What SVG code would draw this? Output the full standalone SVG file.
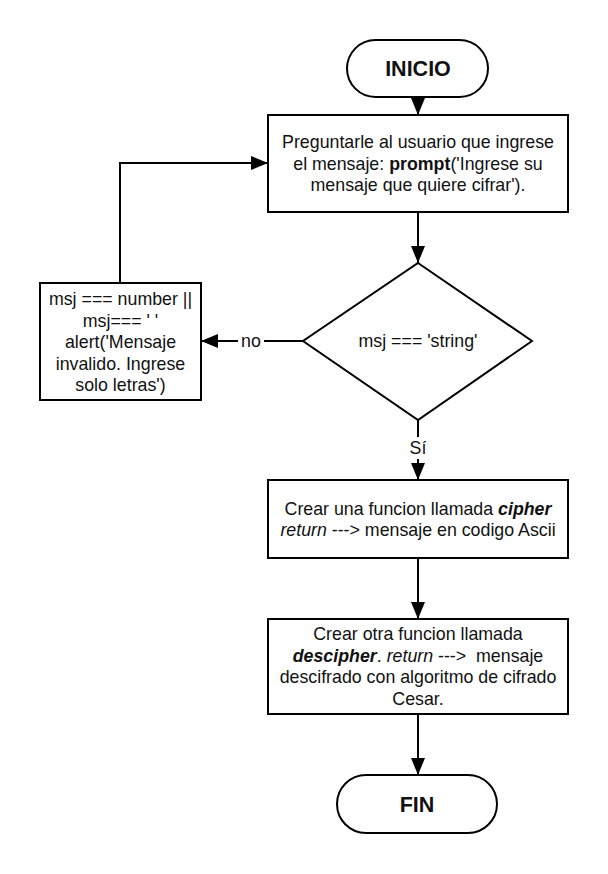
<svg xmlns="http://www.w3.org/2000/svg" width="608" height="874" viewBox="0 0 608 874">
<style>
.shape{fill:#fff;stroke:#000;stroke-width:2}
.t{font-family:"Liberation Sans",Arial,sans-serif;font-size:17.8px;fill:#111;text-anchor:middle}
.title{font-family:"Liberation Sans",Arial,sans-serif;font-size:21.5px;font-weight:bold;fill:#111;text-anchor:middle}
.line{fill:none;stroke:#000;stroke-width:2}
.b{font-weight:bold}
.i{font-style:italic}
.bi{font-weight:bold;font-style:italic}
</style>
<defs>
<marker id="arr" markerUnits="userSpaceOnUse" markerWidth="18" markerHeight="14" refX="17" refY="7" orient="auto">
<path d="M0,0 L17,7 L0,14 Z" fill="#000"/>
</marker>
</defs>
<rect width="608" height="874" fill="#fff"/>
<g id="connectors">
<line class="line" x1="418" y1="97" x2="418" y2="115" marker-end="url(#arr)"/>
<line class="line" x1="418" y1="212" x2="418" y2="263" marker-end="url(#arr)"/>
<line class="line" x1="303" y1="341" x2="201" y2="341" marker-end="url(#arr)"/>
<rect x="238" y="330" width="26" height="22" fill="#fff"/>
<text class="t" x="251" y="347">no</text>
<polyline class="line" points="120,283 120,163 268,163" marker-end="url(#arr)"/>
<line class="line" x1="418" y1="420" x2="418" y2="480" marker-end="url(#arr)"/>
<rect x="405" y="437" width="26" height="22" fill="#fff"/>
<text class="t" x="418" y="454">Sí</text>
<line class="line" x1="418" y1="558" x2="418" y2="619" marker-end="url(#arr)"/>
<line class="line" x1="418" y1="714" x2="418" y2="775" marker-end="url(#arr)"/>
</g>
<g id="inicio">
<rect class="shape" x="347" y="40" width="141" height="57" rx="28.5"/>
<text class="title" x="418" y="76">INICIO</text>
</g>
<g id="preguntar">
<rect class="shape" x="268" y="115" width="300" height="97"/>
<text class="t" x="418" y="148">Preguntarle al usuario que ingrese</text>
<text class="t" x="418" y="169.5">el mensaje: <tspan class="b">prompt</tspan>('Ingrese su</text>
<text class="t" x="418" y="191">mensaje que quiere cifrar').</text>
</g>
<g id="decision">
<polygon class="shape" points="418,263 532,341 418,420 303,341"/>
<text class="t" x="418" y="347">msj === 'string'</text>
</g>
<g id="alerta">
<rect class="shape" x="40" y="283" width="161" height="117"/>
<text class="t" x="120.5" y="305">msj === number ||</text>
<text class="t" x="120.5" y="326.5" xml:space="preserve">msj=== ' '</text>
<text class="t" x="120.5" y="348">alert('Mensaje</text>
<text class="t" x="120.5" y="369.5">invalido. Ingrese</text>
<text class="t" x="120.5" y="391">solo letras')</text>
</g>
<g id="cipher">
<rect class="shape" x="268" y="480" width="300" height="78"/>
<text class="t" x="418" y="514.5">Crear una funcion llamada <tspan class="bi">cipher</tspan></text>
<text class="t" x="418" y="536"><tspan class="i">return</tspan> ---&gt; mensaje en codigo Ascii</text>
</g>
<g id="descipher">
<rect class="shape" x="268" y="619" width="300" height="95"/>
<text class="t" x="418" y="640">Crear otra funcion llamada</text>
<text class="t" x="418" y="661.5" xml:space="preserve"><tspan class="bi">descipher</tspan>. <tspan class="i">return</tspan> ---&gt;  mensaje</text>
<text class="t" x="418" y="683">descifrado con algoritmo de cifrado</text>
<text class="t" x="418" y="704.5">Cesar.</text>
</g>
<g id="fin">
<rect class="shape" x="337" y="775" width="160" height="58" rx="29"/>
<text class="title" x="417" y="812">FIN</text>
</g>
</svg>
